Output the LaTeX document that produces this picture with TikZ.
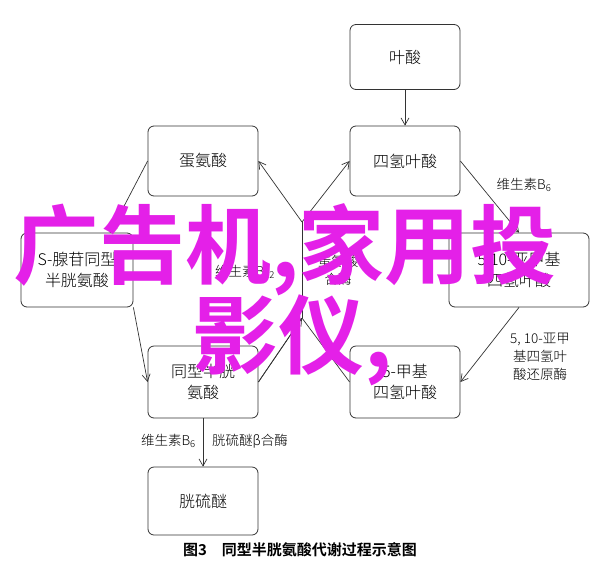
\documentclass[tikz,border=0pt]{standalone}
\usepackage{fontspec}
\setmainfont{Noto Sans CJK SC}[UprightFont=* Light, BoldFont=* Bold]
\newfontfamily\cjkbold{Noto Sans CJK SC Bold}
\usetikzlibrary{arrows.meta}
\definecolor{wm}{RGB}{228,32,232}
\begin{document}
\begin{tikzpicture}[x=1pt,y=-1pt,
  bx/.style={draw=black!80,rounded corners=6pt,line width=0.8pt,minimum width=110pt,minimum height=70pt,align=center,font=\fontsize{16}{21}\selectfont,inner sep=0pt},
  ln/.style={draw=black!80,line width=0.7pt},
  ar/.style={ln,-{Straight Barb[length=7pt,width=8pt]}},
  lb/.style={font=\fontsize{13.5}{18}\selectfont,align=center,inner sep=0pt}]
\useasboundingbox (0,0) rectangle (600,574);
\fill[white] (0,0) rectangle (600,574);
\node[bx,minimum height=65pt] (ys) at (405,57) {叶酸};
\node[bx] (thf) at (405,161) {四氢叶酸};
\node[bx] (met) at (203,161) {蛋氨酸};
\node[bx,minimum width=112pt,minimum height=74pt] (sah) at (77,270) {S-腺苷同型\\半胱氨酸};
\node[bx,minimum width=140pt,minimum height=74pt] (mthf) at (519,270) {5,10-亚甲基\\四氢叶酸};
\node[bx,minimum height=72pt] (hcy) at (203,382) {同型半胱\\氨酸};
\node[bx,minimum height=72pt] (mt) at (405,382) {5-甲基\\四氢叶酸};
\node[bx,minimum height=68pt] (cys) at (203,501) {胱硫醚};
\coordinate (up) at (302,222);
\coordinate (lo) at (302,318);
\coordinate (sahT) at (110,233);
\draw[ar] (ys) -- (thf);
\draw[ar] (met.west) -- (sahT);
\draw[ar] (sah.south east) -- (hcy.west);
\draw[ar] (thf.east) -- (mthf.north);
\draw[ar] (mthf.south) -- (mt.east);
\draw[ar] (hcy) -- (cys);
\draw[ln] (hcy.east) -- (lo) (mt.west) -- (lo);
\draw[ar] (hcy.east) -- (lo);
\draw[ln] (lo) -- (up);
\draw[ar] (up) -- (met.east);
\draw[ar] (up) -- (thf.west);
\node[lb] (l1) at (524,185) {维生素B\textsubscript{6}};
\node[lb] (l2) at (540,357) {5, 10-亚甲\\基四氢叶\\酸还原酶};
\node[lb] (l3) at (245,272) {维生素B\textsubscript{12}};
\node[lb] (l4) at (338,270) {蛋氨酸\\合酶};
\node[lb,anchor=east] (l5) at (196,441) {维生素B\textsubscript{6}};
\node[lb,anchor=west] (l6) at (212,441) {胱硫醚β合酶};
\node[font=\cjkbold\fontsize{15}{18}\selectfont] (t) at (300,550) {图3\quad 同型半胱氨酸代谢过程示意图};
\node[font=\cjkbold\fontsize{86}{88}\selectfont,text=wm,inner sep=0pt] (w1) at (285,250) {广告机,家用投};
\node[font=\cjkbold\fontsize{86}{88}\selectfont,text=wm,inner sep=0pt] (w2) at (292,340) {影仪,};
\end{tikzpicture}
\end{document}
